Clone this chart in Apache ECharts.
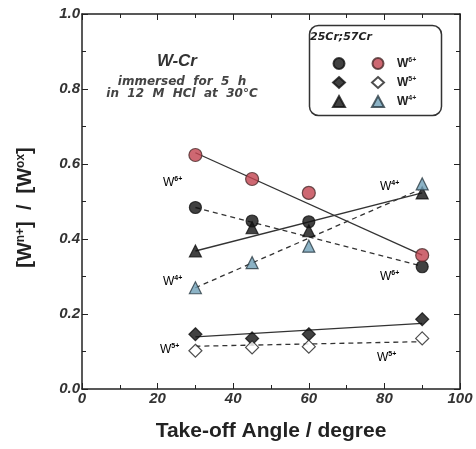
<!DOCTYPE html>
<html>
<head>
<meta charset="utf-8">
<script src="https://cdn.jsdelivr.net/npm/echarts@6/dist/echarts.min.js"></script>
<style>
  html, body { margin: 0; padding: 0; background: #fff; }
  #chart { width: 476px; height: 449px; }
</style>
</head>
<body>
<div id="chart"></div>
<script>
// take-off angles (degree)
const angles = [30, 45, 60, 90];

// 25Cr (filled black) series
const cr25W6 = [0.484, 0.448, 0.446, 0.326];
const cr25W5 = [0.146, 0.135, 0.146, 0.186];
const cr25W4 = [0.368, 0.43, 0.422, 0.523];

// 57Cr (coloured / open) series
const cr57W6 = [0.624, 0.56, 0.523, 0.357];
const cr57W5 = [0.102, 0.111, 0.113, 0.135];
const cr57W4 = [0.27, 0.337, 0.381, 0.547];

// fitted straight lines: [x0, y0, x1, y1]
const fitSolidW6 = [30, 0.63, 90, 0.357];
const fitSolidW4 = [30, 0.368, 90, 0.523];
const fitSolidW5 = [30, 0.139, 90, 0.175];
const fitDashW6 = [30, 0.484, 89, 0.33];
const fitDashW4 = [30, 0.27, 89, 0.53];
const fitDashW5 = [30, 0.114, 89, 0.126];

const xTicks = [0, 20, 40, 60, 80, 100];
const yTicks = [0.0, 0.2, 0.4, 0.6, 0.8, 1.0];

const FONT = "Liberation Sans";
const WIDE = "DejaVu Sans";
const pts = (ys) => angles.map((x, i) => [x, ys[i]]);
const seg = (f) => [[f[0], f[1]], [f[2], f[3]]];

const chart = echarts.init(document.getElementById("chart"));

const supRich = {
  b: { fontFamily: FONT, fontSize: 12, fontWeight: "bold", color: "#222" },
  s: { fontFamily: FONT, fontSize: 7, fontWeight: "bold", color: "#222", verticalAlign: "top", padding: [0, 0, 6, 0] },
};

function fitLine(f, dashed) {
  return {
    type: "line",
    data: seg(f),
    symbol: "none",
    silent: true,
    z: 1,
    lineStyle: { color: "#333", width: 1.3, type: dashed ? [5, 4] : "solid" },
  };
}

function scatter(name, ys, symbol, size, fill, border) {
  return {
    name: name,
    type: "scatter",
    data: pts(ys),
    symbol: symbol,
    symbolSize: size,
    z: 3,
    itemStyle: { color: fill, borderColor: border, borderWidth: 1.2 },
  };
}

const tickAxisX = {
  type: "value",
  min: 0,
  max: 100,
  interval: 20,
  axisLine: { show: true, onZero: false, lineStyle: { color: "#222", width: 1.5 } },
  axisTick: { show: true, inside: true, length: 6, lineStyle: { color: "#222" } },
  minorTick: { show: true, splitNumber: 2, length: 4, lineStyle: { color: "#222" } },
  splitLine: { show: false },
};
const tickAxisY = {
  type: "value",
  min: 0,
  max: 1,
  interval: 0.2,
  axisLine: { show: true, onZero: false, lineStyle: { color: "#222", width: 1.5 } },
  axisTick: { show: true, inside: true, length: 6, lineStyle: { color: "#222" } },
  minorTick: { show: true, splitNumber: 2, length: 4, lineStyle: { color: "#222" } },
  splitLine: { show: false },
};

const option = {
  backgroundColor: "#fff",
  animation: false,
  grid: { left: 82, right: 16, top: 14, bottom: 60, outerBoundsMode: "none", containLabel: false },
  xAxis: [
    Object.assign({}, tickAxisX, {
      position: "bottom",
      name: "Take-off Angle / degree",
      nameLocation: "middle",
      nameGap: 32,
      nameTextStyle: { fontFamily: FONT, fontSize: 21, fontWeight: "bold", color: "#222" },
      axisLabel: {
        margin: 2,
        fontFamily: FONT, fontSize: 15, fontWeight: "bold", fontStyle: "italic", color: "#333",
        customValues: xTicks,
      },
    }),
    Object.assign({}, tickAxisX, { position: "top", axisLabel: { show: false } }),
  ],
  yAxis: [
    Object.assign({}, tickAxisY, {
      position: "left",
      name: "[W{s|n+}]  /  [W{s|ox}]",
      nameLocation: "middle",
      nameRotate: 90,
      nameGap: 46,
      nameTextStyle: {
        fontFamily: FONT, fontSize: 20, fontWeight: "bold", color: "#222",
        padding: [0, 12, 0, 0],
        rich: {
          s: { fontFamily: FONT, fontSize: 12, fontWeight: "bold", color: "#222", verticalAlign: "top", padding: [0, 0, 9, 0] },
        },
      },
      axisLabel: {
        margin: 2,
        fontFamily: FONT, fontSize: 15, fontWeight: "bold", fontStyle: "italic", color: "#333",
        customValues: yTicks,
        formatter: (v) => v.toFixed(1),
      },
    }),
    Object.assign({}, tickAxisY, { position: "right", axisLabel: { show: false } }),
  ],
  legend: [
    {
      left: 327, top: 52, orient: "vertical", itemGap: 6, itemWidth: 12, itemHeight: 11,
      data: ["25Cr W6+", "25Cr W5+", "25Cr W4+"],
      formatter: () => "",
      selectedMode: false,
    },
    {
      left: 366, top: 52, orient: "vertical", itemGap: 6, itemWidth: 12, itemHeight: 11,
      data: ["57Cr W6+", "57Cr W5+", "57Cr W4+"],
      formatter: (n) => "W{s|" + n.slice(6) + "}",
      textStyle: { rich: supRich, fontFamily: FONT, fontSize: 12, fontWeight: "bold", color: "#222", padding: [0, 0, 0, 8] },
      selectedMode: false,
    },
  ],
  graphic: [
    { type: "rect", left: 307, top: 23, shape: { width: 132, height: 90, r: 9 },
      style: { fill: "none", stroke: "#333", lineWidth: 1.5 }, z: 10 },
    { type: "text", left: 310, top: 32,
      style: { text: "25Cr;57Cr", font: "italic bold 11px " + WIDE, fill: "#222" }, z: 10 },
    { type: "text", x: 177, y: 61,
      style: { text: "W-Cr", font: "italic bold 17px " + FONT, fill: "#333", align: "center", verticalAlign: "middle" }, z: 10 },
    { type: "text", x: 182, y: 82,
      style: { text: "immersed  for  5  h", font: "italic bold 12px " + WIDE, fill: "#444", align: "center", verticalAlign: "middle" }, z: 10 },
    { type: "text", x: 182, y: 94,
      style: { text: "in  12  M  HCl  at  30°C", font: "italic bold 12px " + WIDE, fill: "#444", align: "center", verticalAlign: "middle" }, z: 10 },
    { type: "text", left: 163, top: 176, style: { text: "W{s|6+}", rich: supRich }, z: 10 },
    { type: "text", left: 380, top: 180, style: { text: "W{s|4+}", rich: supRich }, z: 10 },
    { type: "text", left: 163, top: 275, style: { text: "W{s|4+}", rich: supRich }, z: 10 },
    { type: "text", left: 380, top: 270, style: { text: "W{s|6+}", rich: supRich }, z: 10 },
    { type: "text", left: 160, top: 343, style: { text: "W{s|5+}", rich: supRich }, z: 10 },
    { type: "text", left: 377, top: 351, style: { text: "W{s|5+}", rich: supRich }, z: 10 },
  ],
  series: [
    fitLine(fitSolidW6, false),
    fitLine(fitSolidW4, false),
    fitLine(fitSolidW5, false),
    fitLine(fitDashW6, true),
    fitLine(fitDashW4, true),
    fitLine(fitDashW5, true),
    scatter("25Cr W6+", cr25W6, "circle", 12, "#111", "#111"),
    scatter("25Cr W5+", cr25W5, "diamond", 13, "#111", "#111"),
    scatter("25Cr W4+", cr25W4, "triangle", 12, "#111", "#111"),
    scatter("57Cr W6+", cr57W6, "circle", 13, "#c2424f", "#4a2a2a"),
    scatter("57Cr W5+", cr57W5, "diamond", 13, "#fff", "#222"),
    scatter("57Cr W4+", cr57W4, "triangle", 12, "#6fa0b8", "#2b3b44"),
  ],
};

chart.setOption(option);
</script>
</body>
</html>
